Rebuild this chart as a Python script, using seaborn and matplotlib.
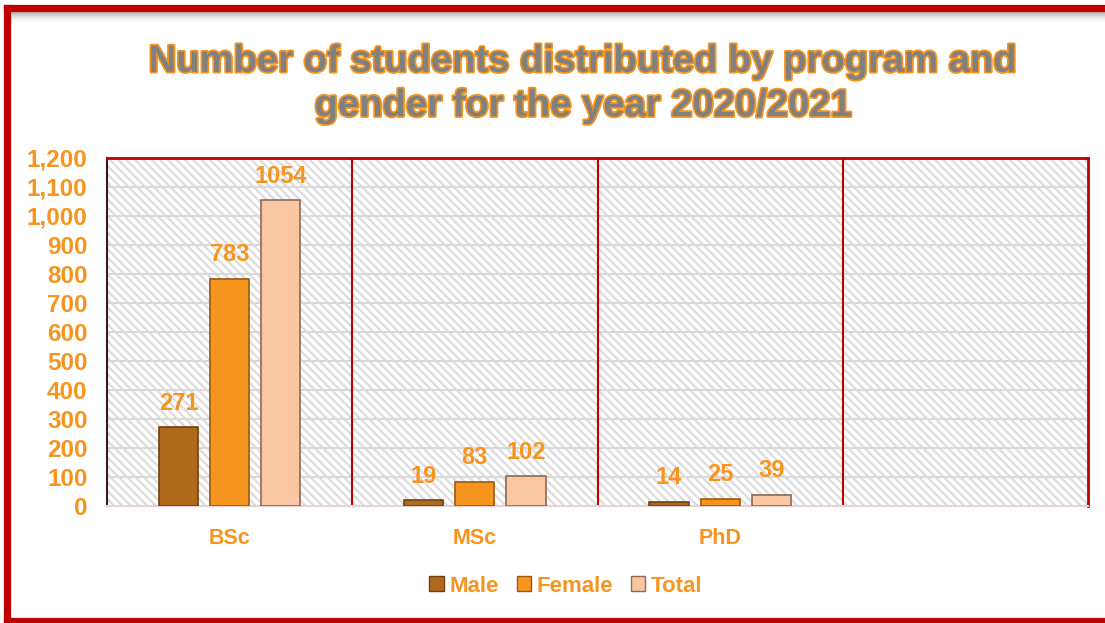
import matplotlib
matplotlib.use("Agg")
import matplotlib.pyplot as plt
import matplotlib.patheffects as pe
from matplotlib.patches import Rectangle, Patch
from matplotlib.ticker import FuncFormatter
import seaborn as sns
import pandas as pd

programs = ["BSc", "MSc", "PhD", ""]
genders = ["Male", "Female", "Total"]
male = [271, 19, 14]
female = [783, 83, 25]
total = [1054, 102, 39]
yticks = list(range(0, 1201, 100))

colors = {"Male": "#B0681A", "Female": "#F7961E", "Total": "#FBC6A2"}
edge = {"Male": "#6E4210", "Female": "#9A5A10", "Total": "#8A6A58"}
ORANGE = "#F7941D"
RED = "#C00000"

rows = []
for p, m, f, t in zip(programs[:3], male, female, total):
    rows += [(p, "Male", m), (p, "Female", f), (p, "Total", t)]
df = pd.DataFrame(rows, columns=["program", "gender", "value"])

sns.set_theme(style="white")
fam = ["Liberation Sans Narrow", "Liberation Sans", "DejaVu Sans"]
plt.rcParams["font.family"] = fam
plt.rcParams["hatch.linewidth"] = 1.6

fig = plt.figure(figsize=(11.05, 6.23), dpi=100)
ax = fig.add_axes([107 / 1105, 1 - 506 / 623, (1088 - 107) / 1105, (506 - 158) / 623])

# hatched plot background
ax.add_patch(Rectangle((0, 0), 1, 1, transform=ax.transAxes, facecolor="white",
                       edgecolor="#DCDCDC", hatch="\\\\\\\\", lw=0, zorder=0))

sns.barplot(data=df, x="program", y="value", hue="gender", order=programs,
            hue_order=genders, palette=colors, width=0.625, gap=0.235,
            saturation=1, ax=ax, legend=False, zorder=3)

for cont, g in zip(ax.containers, genders):
    for bar in cont:
        bar.set_edgecolor(edge[g])
        bar.set_linewidth(1.2)
    ax.bar_label(cont, padding=9, color=ORANGE, fontsize=17, fontweight="bold",
                 family=fam)

ax.set_ylim(0, 1200)
ax.set_yticks(yticks)
ax.yaxis.set_major_formatter(FuncFormatter(lambda v, _: f"{int(v):,}"))
ax.set_xlim(-0.5, 3.5)
ax.grid(axis="y", color="#D9D9D9", lw=1.5, zorder=1)
for xb in [0.5, 1.5, 2.5]:
    ax.axvline(xb, color=RED, lw=1.5, zorder=2)
ax.set_xlabel("")
ax.set_ylabel("")
ax.tick_params(axis="y", length=0, pad=14, labelsize=17.5, labelcolor=ORANGE)
ax.tick_params(axis="x", length=0, pad=16, labelsize=15.5, labelcolor=ORANGE)
for lbl in ax.get_yticklabels() + ax.get_xticklabels():
    lbl.set_fontweight("bold")

for s in ["top", "right"]:
    ax.spines[s].set_visible(True)
    ax.spines[s].set_color(RED)
    ax.spines[s].set_linewidth(2)
ax.spines["left"].set_color("#3A1A1A")
ax.spines["left"].set_linewidth(1.5)
ax.spines["bottom"].set_color("#E6D0D4")
ax.spines["bottom"].set_linewidth(1.5)

# title
fig.text(0.528, 1 - 84 / 623,
         "Number of students distributed by program and\ngender for the year 2020/2021",
         ha="center", va="center", fontsize=27.5, fontweight="bold", color="#808080",
         linespacing=1.3, family=fam,
         path_effects=[pe.Stroke(linewidth=2.5, foreground=ORANGE), pe.Normal()])

# legend
handles = [Patch(facecolor=colors[g], edgecolor=edge[g]) for g in genders]
leg = fig.legend(handles, genders, loc="center", bbox_to_anchor=(566 / 1105, 1 - 586 / 623),
                 ncol=3, frameon=False, handlelength=0.65, handleheight=0.65,
                 handletextpad=0.25, columnspacing=0.8,
                 prop={"family": fam, "weight": "bold", "size": 16})
for t in leg.get_texts():
    t.set_color(ORANGE)

# outer frame (left, top, bottom) with shadow below the top edge
for i, a in enumerate([0.25, 0.17, 0.10, 0.05, 0.02]):
    fig.add_artist(plt.Line2D([10 / 1105, 1.0], [1 - (13 + 2 * i) / 623] * 2,
                              transform=fig.transFigure, color="black", alpha=a, lw=1.6))
fw = 5.2
fig.add_artist(plt.Line2D([6.5 / 1105, 6.5 / 1105], [2 / 623, 1 - 8 / 623],
                          transform=fig.transFigure, color=RED, lw=fw,
                          solid_capstyle="projecting"))
fig.add_artist(plt.Line2D([6.5 / 1105, 1.0], [1 - 8 / 623] * 2,
                          transform=fig.transFigure, color=RED, lw=fw,
                          solid_capstyle="projecting"))
fig.add_artist(plt.Line2D([6.5 / 1105, 1.0], [2.5 / 623] * 2,
                          transform=fig.transFigure, color=RED, lw=fw,
                          solid_capstyle="projecting"))

fig.savefig("out.png", dpi=100)
